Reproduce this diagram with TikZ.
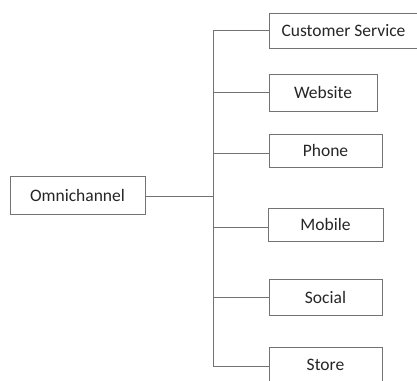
\documentclass[tikz,border=0pt]{standalone}
\usepackage{fontspec}
\setmainfont{Carlito}
\begin{document}
\begin{tikzpicture}[x=1pt,y=-1pt,
  box/.style={draw=black!55,line width=0.9pt,fill=white,text=black!85,inner sep=0pt,font=\fontsize{17.5}{20}\selectfont},
  conn/.style={draw=black!55,line width=1pt}]
\useasboundingbox (0,0) rectangle (417,380);
\clip (0,0) rectangle (417,380);
\node[box,minimum width=135,minimum height=38] (omni) at (77.5,195) {Omnichannel};
\node[box,minimum width=149,minimum height=35] (cs) at (343.5,30.5) {Customer Service};
\node[box,minimum width=108,minimum height=37] (web) at (323,92.5) {Website};
\node[box,minimum width=113,minimum height=33] (phone) at (325.5,150.5) {Phone};
\node[box,minimum width=115,minimum height=33] (mob) at (325.5,224.5) {Mobile};
\node[box,minimum width=113,minimum height=36] (soc) at (325.5,297) {Social};
\node[box,minimum width=113,minimum height=36] (store) at (325.5,365) {Store};
\coordinate (tr) at (213,196);
\draw[conn] (omni.east |- 0,196) -- (tr);
\draw[conn] (213,30) -- (213,366);
\draw[conn] (213,30) -- (cs.west |- 0,30);
\draw[conn] (213,92) -- (web.west |- 0,92);
\draw[conn] (213,153) -- (phone.west |- 0,153);
\draw[conn] (213,227) -- (mob.west |- 0,227);
\draw[conn] (213,297) -- (soc.west |- 0,297);
\draw[conn] (213,366) -- (store.west |- 0,366);
\end{tikzpicture}
\end{document}
